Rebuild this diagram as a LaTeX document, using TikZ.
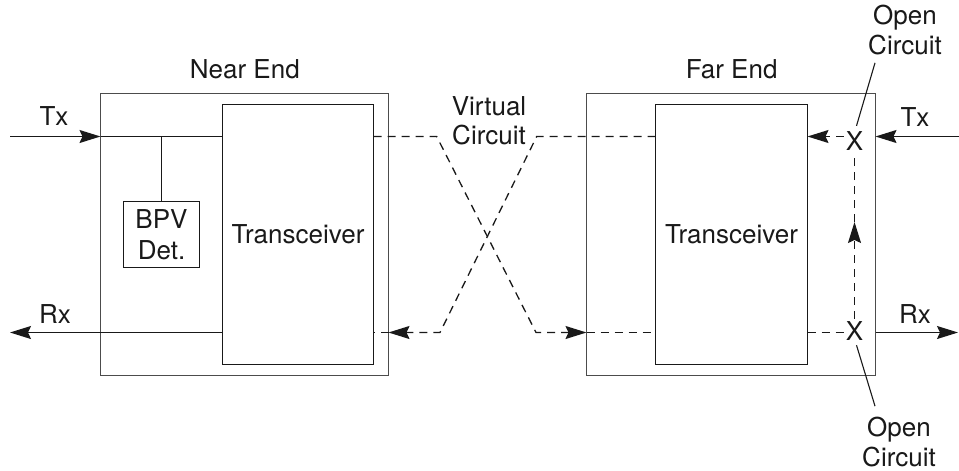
\documentclass[tikz,border=0pt]{standalone}
\usepackage{fontspec}
\setmainfont{TeX Gyre Heros}
\usetikzlibrary{arrows.meta,calc}
\begin{document}
\begin{tikzpicture}[x=1pt,y=-1pt,
  every node/.style={font=\fontsize{26}{29.5}\selectfont, text=black!90},
  outerbox/.style={draw=black!70, line width=1.3pt, inner sep=0pt, outer sep=0pt},
  innerbox/.style={draw=black!90, line width=1.3pt, inner sep=0pt, outer sep=0pt},
  wire/.style={draw=black!90, line width=1.3pt},
  dwire/.style={wire, dash pattern=on 8pt off 6pt},
  tip/.style={-{Stealth[length=21pt,width=13pt,inset=3pt]}},
  lbl/.style={inner sep=0pt, anchor=base},
  mlbl/.style={inner sep=0pt, align=center}]
\useasboundingbox (0,0) rectangle (959,471);
% boxes
\node[outerbox, minimum width=288pt, minimum height=282pt] (nearout) at (244.5,234.5) {};
\node[innerbox, minimum width=151pt, minimum height=260pt] (neartr) at (298,234.5) {Transceiver};
\node[innerbox, minimum width=76pt, minimum height=66pt, align=center] (bpv) at (161.5,234.5) {BPV\\[1.5pt]Det.};
\node[outerbox, minimum width=289pt, minimum height=282pt] (farout) at (731,234.5) {};
\node[innerbox, minimum width=152pt, minimum height=260pt] (fartr) at (731.5,234.5) {Transceiver};
% coordinates
\coordinate (txy) at (0,136.5);
\coordinate (rxy) at (0,332.5);
\coordinate (ntxin) at (10,136.5);
\coordinate (nrxout) at (10,332.5);
\coordinate (ftxin) at (959,136.5);
\coordinate (frxout) at (958,332.5);
\coordinate (b1) at (436.7,136.5);
\coordinate (b2) at (536,332.5);
\coordinate (b3) at (536.7,136.5);
\coordinate (b4) at (440,332.5);
\coordinate (vmid) at (854.5,222);
% labels
\node[lbl] (ntx) at (54,125) {Tx};
\node[lbl] (nrx) at (55,323) {Rx};
\node[lbl] (nearlbl) at (244.8,78) {Near End};
\node[lbl] (farlbl) at (731.7,78) {Far End};
\node[lbl] (ftx) at (915,126) {Tx};
\node[lbl] (frx) at (915,323) {Rx};
\node[mlbl] (vc) at (489,121) {Virtual\\Circuit};
\node[mlbl] (octop) at (905,30) {Open\\Circuit};
\node[mlbl] (ocbot) at (899,442) {Open\\Circuit};
\node[lbl, inner sep=2pt] (xtop) at (854.5,150) {X};
\node[lbl, inner sep=2pt] (xbot) at (854.5,340) {X};
% wires
\draw[wire,tip] (ntxin) -- (nearout.west |- txy);
\draw[wire] (nearout.west |- txy) -- (neartr.west |- txy);
\draw[wire] (bpv.north) -- (bpv.north |- txy);
\draw[wire,tip] (neartr.west |- rxy) -- (nrxout);
\draw[dwire,tip] (neartr.east |- txy) -- (b1) -- (b2) -- (farout.west |- rxy);
\draw[dwire] (farout.west |- rxy) -- (fartr.west |- rxy);
\draw[dwire,tip] (fartr.west |- txy) -- (b3) -- (b4) -- (nearout.east |- rxy);
\draw[dwire] (nearout.east |- rxy) -- (neartr.east |- rxy);
\draw[wire,tip] (ftxin) -- (farout.east |- txy);
\draw[dwire,tip] (xtop.west |- txy) -- (fartr.east |- txy);
\draw[dwire] (fartr.east |- rxy) -- (xbot.west |- rxy);
\draw[wire,tip] (farout.east |- rxy) -- (frxout);
\draw[dwire,tip] (xbot.north) -- (vmid);
\draw[dwire] (vmid) -- (xtop.south);
% leaders
\draw[wire, line width=1.1pt] ([xshift=-30pt,yshift=-8pt]octop.south) -- ([xshift=2pt,yshift=3pt]xtop.north);
\draw[wire, line width=1.1pt] ([xshift=2pt,yshift=-3pt]xbot.south) -- ([xshift=-24pt,yshift=11pt]ocbot.north);
\end{tikzpicture}
\end{document}
